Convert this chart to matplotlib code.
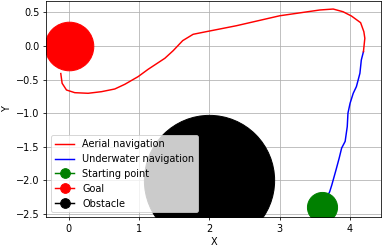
import matplotlib
matplotlib.use('Agg')
import matplotlib.pyplot as plt
from matplotlib.lines import Line2D

# path back from the start point, underwater first then in the air
underwater_x = [3.60, 3.66, 3.71, 3.74, 3.80, 3.845, 3.88, 3.93, 3.96, 3.97, 4.00, 4.045,
                4.09, 4.115, 4.14, 4.16, 4.19]
underwater_y = [-2.40, -2.27, -2.17, -2.07, -1.845, -1.67, -1.52, -1.42, -1.20, -1.00, -0.853, -0.704,
                -0.605, -0.506, -0.406, -0.208, -0.085]

aerial_x = [4.19, 4.21, 4.196, 4.15, 4.02, 3.90, 3.76, 3.57, 3.00, 2.385, 1.91, 1.768, 1.62,
            1.484, 1.366, 1.128, 0.986, 0.797, 0.654, 0.465, 0.275, 0.085, -0.033, -0.095, -0.114]
aerial_y = [-0.085, 0.115, 0.213, 0.347, 0.446, 0.51, 0.55, 0.536, 0.45, 0.302, 0.204, 0.174, 0.08,
            -0.07, -0.183, -0.347, -0.456, -0.57, -0.64, -0.68, -0.704, -0.695, -0.655, -0.555, -0.41]

start = (3.6, -2.4)
goal = (0.0, 0.0)
obstacle = (2.0, -2.0)

fig = plt.figure(figsize=(382 / 70, 246 / 70), dpi=70)
ax = fig.add_axes([0.1212, 0.1167, 0.8762, 0.8793])

ax.plot(underwater_x, underwater_y, color='b')
ax.plot(aerial_x, aerial_y, color='r')
ax.plot(obstacle[0], obstacle[1], 'o', color='k', markersize=134)
ax.plot(goal[0], goal[1], 'o', color='r', markersize=50)
ax.plot(start[0], start[1], 'o', color='g', markersize=31)

ax.set_xlim(-0.32, 4.44)
ax.set_ylim(-2.55, 0.67)
ax.set_xlabel('X', labelpad=2.5)
ax.set_ylabel('Y')
ax.grid(True)

handles = [
    Line2D([], [], color='r', label='Aerial navigation'),
    Line2D([], [], color='b', label='Underwater navigation'),
    Line2D([], [], color='g', marker='o', markersize=10, label='Starting point'),
    Line2D([], [], color='r', marker='o', markersize=10, label='Goal'),
    Line2D([], [], color='k', marker='o', markersize=10, label='Obstacle'),
]
ax.legend(handles=handles, loc='lower left')

fig.savefig('out.png', dpi=70)
